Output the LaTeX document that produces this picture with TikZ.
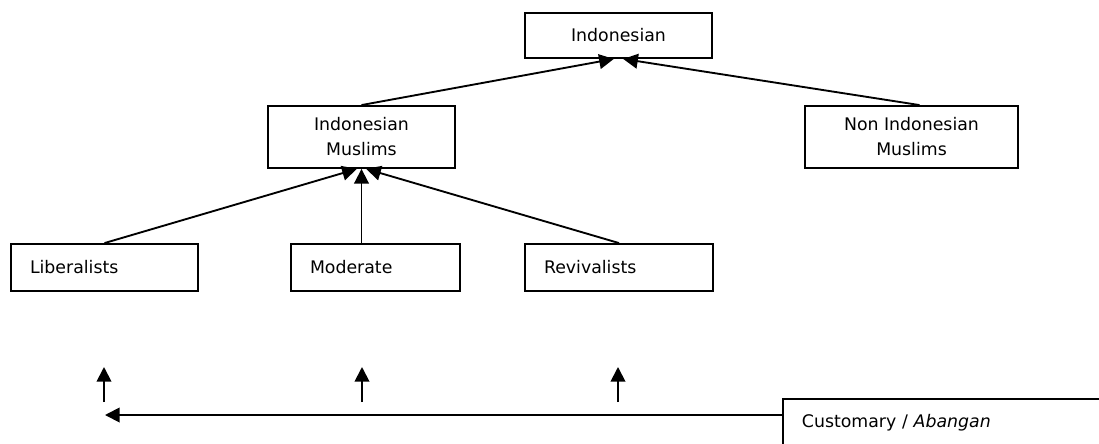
\documentclass[tikz,border=0pt]{standalone}
\usepackage{fontspec}
\setmainfont{DejaVu Sans}
\usepackage{tikz}
\usetikzlibrary{arrows.meta,positioning}

\begin{document}
\begin{tikzpicture}[x=0.75pt,y=-0.75pt,->,>={Triangle[length=11pt,width=11pt]},
                    line width=1.4pt,font=\fontsize{13}{18.75}\selectfont]
  \tikzstyle{box}=[draw=black,line width=1.4pt,inner ysep=0pt,align=center]
  \tikzstyle{lbox}=[box,inner xsep=14.25pt,align=left,minimum height=35.25pt]

  \useasboundingbox (0,0) rectangle (1099,443);
  \clip (0,0) rectangle (1099,443);

  \node[box,minimum width=140.25pt,minimum height=33.75pt] (Ind) at (618.5,35.5) {Indonesian};
  \node[box,minimum width=140.25pt,minimum height=46.5pt] (IM) at (361.5,137) {Indonesian\\Muslims};
  \node[box,minimum width=159.75pt,minimum height=46.5pt] (NIM) at (911.5,137) {Non Indonesian\\Muslims};

  \node[lbox,text width=111.75pt] (Lib) at (104.5,267.5) {Liberalists};
  \node[lbox,text width=98.25pt] (Mod) at (375.5,267.5) {Moderate};
  \node[lbox,text width=112.5pt] (Rev) at (619,267.5) {Revivalists};

  %\node[box] (Cust) [below right of=Rev] {...};
  \node[lbox,text width=220pt,minimum height=36pt,anchor=north west] (Cust) at (782,398) {Customary / \textit{Abangan}};

  \coordinate (b1) at (104,402);
  \coordinate (t1) at (104,367);
  \coordinate (b2) at (362,402);
  \coordinate (t2) at (362,367);
  \coordinate (b3) at (618,402);
  \coordinate (t3) at (618,367);
  \coordinate (hl) at (105,415);

  \path (IM.north) edge ([xshift=-3.5pt]Ind.south)
        ([xshift=6pt]NIM.north) edge ([xshift=3.5pt]Ind.south)
        (Lib.north) edge ([xshift=-3.5pt]IM.south)
        (IM.south |- Mod.north) edge (IM.south)
        (Rev.north) edge ([xshift=3.5pt]IM.south);

  \path (b1) edge (t1)
        (b2) edge (t2)
        (b3) edge (t3)
        (Cust.west |- hl) edge (hl);
\end{tikzpicture}
\end{document}
